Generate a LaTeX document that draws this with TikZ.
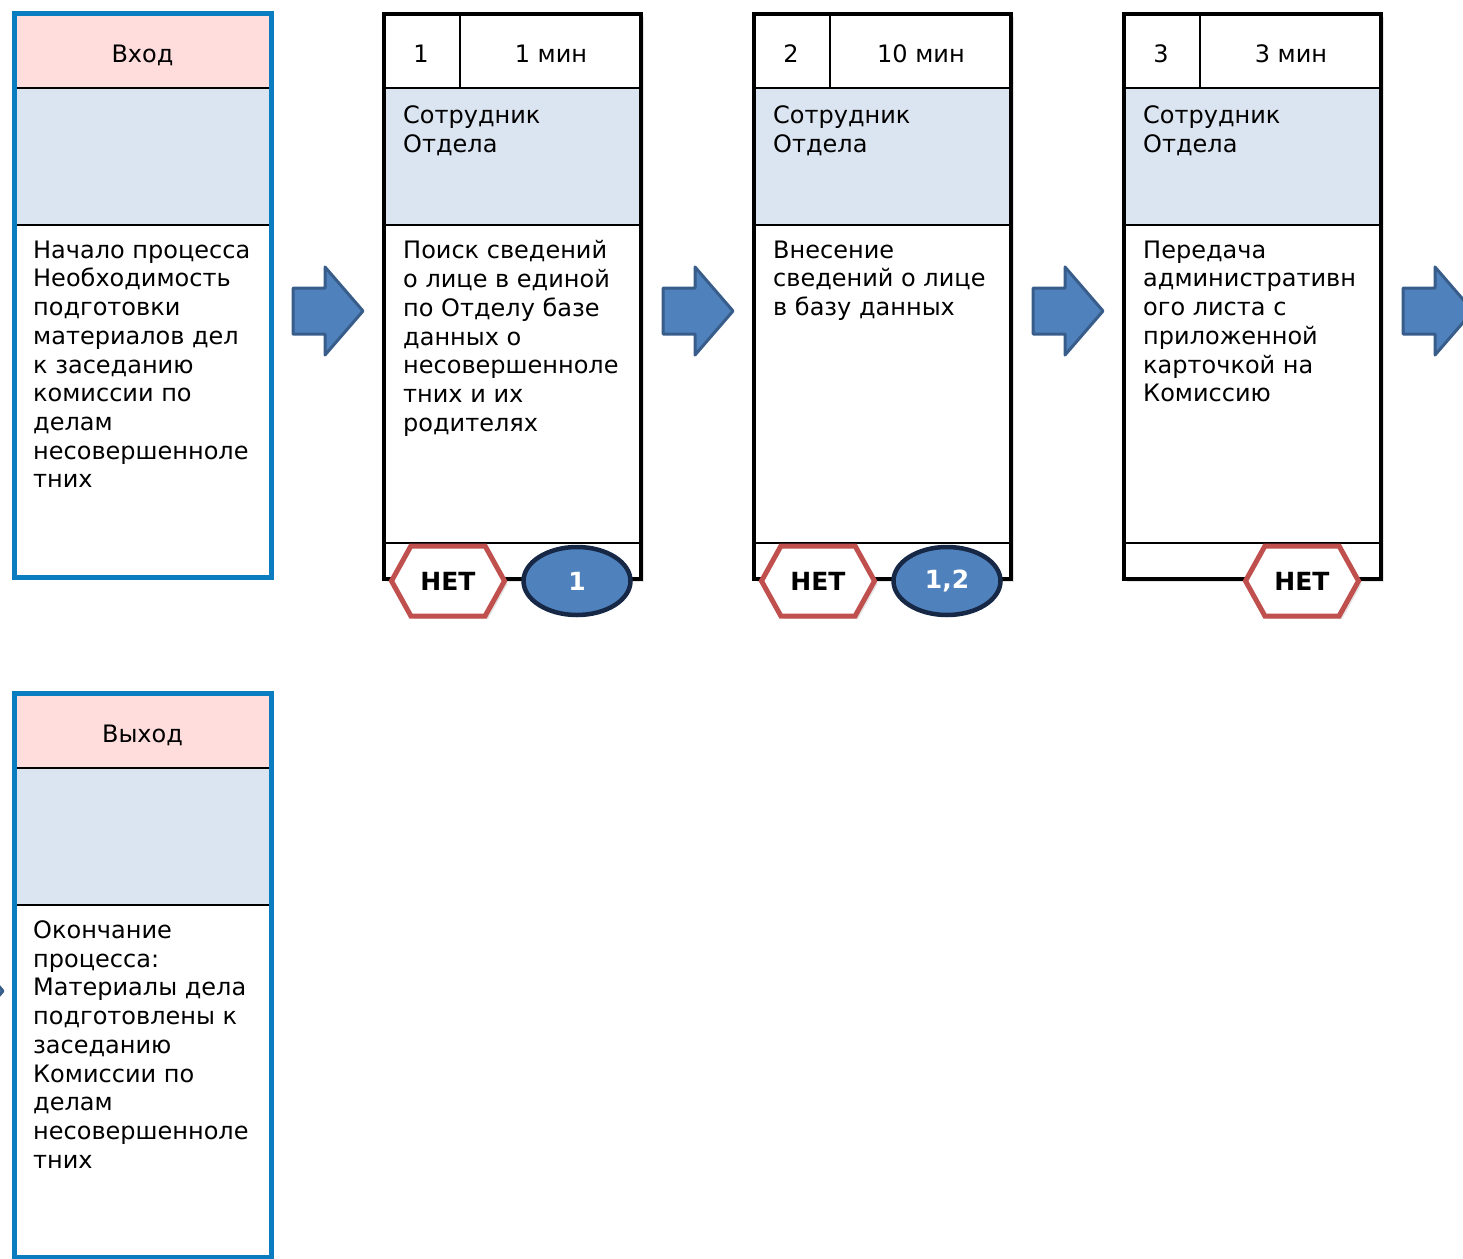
\documentclass[tikz,border=0pt]{standalone}
\usepackage{fontspec}
\setmainfont{DejaVu Sans}
\usepackage{tikz}
\usetikzlibrary{shapes.geometric,shapes.symbols,shadows}
\usepackage{xcolor}
\definecolor{frameblue}{RGB}{10,125,193}
\definecolor{headpink}{RGB}{255,221,221}
\definecolor{rolegray}{RGB}{219,229,241}
\definecolor{hexred}{RGB}{192,80,77}
\definecolor{ovalblue}{RGB}{79,129,189}
\definecolor{ovalnavy}{RGB}{22,40,70}
\definecolor{arrowedge}{RGB}{56,93,138}

\begin{document}
\begin{tikzpicture}[x=1pt,y=-1pt,
    every node/.style={font=\fontsize{24}{28.7}\selectfont,inner sep=0pt},
    txt/.style={align=left,anchor=north west},
    cell/.style={anchor=base},
    softshadow/.style={drop shadow={opacity=.22,shadow xshift=3pt,shadow yshift=-3pt}},
    endbox/.style={draw=frameblue,line width=5pt},
    procbox/.style={draw=black,line width=4.5pt},
    sep/.style={line width=1.8pt},
    noflag/.style={signal,signal to=east and west,signal pointer angle=122,
                   draw=hexred,line width=5pt,fill=white,softshadow,
                   minimum width=113pt,minimum height=70pt,
                   font=\fontsize{25}{28}\selectfont\bfseries},
    refoval/.style={ellipse,draw=ovalnavy,line width=4.5pt,fill=ovalblue,
                    minimum width=107pt,minimum height=68pt,text=white,
                    font=\fontsize{25}{28}\selectfont\bfseries},
    flowarrow/.style={fill=ovalblue,draw=arrowedge,line width=3pt,line join=round}
  ]
    \useasboundingbox (0,0) rectangle (1463,1258);
    \clip (0,0) rectangle (1463,1258);

    % Вход
    \fill[white,softshadow] (14,13) rectangle (271,577);
    \fill[headpink] (14,13) rectangle (271,88);
    \fill[rolegray] (14,88) rectangle (271,225);
    \draw[sep] (14,88) -- (271,88) (14,225) -- (271,225);
    \draw[endbox] (14,13) rectangle (271,577);
    \node[cell] (inhead) at (142.5,62) {Вход};
    \node[txt] (intext) at (33,240.5) {Начало процесса\\Необходимость\\подготовки\\материалов дел\\к заседанию\\комиссии по\\делам\\несовершенноле\\тних};

    % Выход
    \fill[white,softshadow] (14,693) rectangle (271,1257);
    \fill[headpink] (14,693) rectangle (271,768);
    \fill[rolegray] (14,768) rectangle (271,905);
    \draw[sep] (14,768) -- (271,768) (14,905) -- (271,905);
    \draw[endbox] (14,693) rectangle (271,1257);
    \node[cell] (outhead) at (142.5,742) {Выход};
    \node[txt] (outtext) at (33,920.5) {Окончание\\процесса:\\Материалы дела\\подготовлены к\\заседанию\\Комиссии по\\делам\\несовершенноле\\тних};

    % шаг 1
    \fill[white,softshadow] (384,14) rectangle (641,579);
    \fill[rolegray] (384,88) rectangle (641,225);
    \draw[sep] (460,14) -- (460,88);
    \draw[sep] (384,88) -- (641,88) (384,225) -- (641,225) (384,543) -- (641,543);
    \draw[procbox] (384,14) rectangle (641,579);
    \node[cell] (num1) at (421,62) {1};
    \node[cell] (time1) at (551,62) {1 мин};
    \node[txt] (role1) at (403,105.5) {Сотрудник\\Отдела};
    \node[txt] (task1) at (403,240.5) {Поиск сведений\\о лице в единой\\по Отделу базе\\данных о\\несовершенноле\\тних и их\\родителях};
    \node[noflag] (no1) at (448,581) {НЕТ};
    \node[refoval] (ref1) at (577,581) {1};

    % шаг 2
    \fill[white,softshadow] (754,14) rectangle (1011,579);
    \fill[rolegray] (754,88) rectangle (1011,225);
    \draw[sep] (830,14) -- (830,88);
    \draw[sep] (754,88) -- (1011,88) (754,225) -- (1011,225) (754,543) -- (1011,543);
    \draw[procbox] (754,14) rectangle (1011,579);
    \node[cell] (num2) at (791,62) {2};
    \node[cell] (time2) at (921,62) {10 мин};
    \node[txt] (role2) at (773,105.5) {Сотрудник\\Отдела};
    \node[txt] (task2) at (773,240.5) {Внесение\\сведений о лице\\в базу данных};
    \node[noflag] (no2) at (818,581) {НЕТ};
    \node[refoval] (ref2) at (947,581) {1,2};

    % шаг 3
    \fill[white,softshadow] (1124,14) rectangle (1381,579);
    \fill[rolegray] (1124,88) rectangle (1381,225);
    \draw[sep] (1200,14) -- (1200,88);
    \draw[sep] (1124,88) -- (1381,88) (1124,225) -- (1381,225) (1124,543) -- (1381,543);
    \draw[procbox] (1124,14) rectangle (1381,579);
    \node[cell] (num3) at (1161,62) {3};
    \node[cell] (time3) at (1291,62) {3 мин};
    \node[txt] (role3) at (1143,105.5) {Сотрудник\\Отдела};
    \node[txt] (task3) at (1143,240.5) {Передача\\административн\\ого листа с\\приложенной\\карточкой на\\Комиссию};
    \node[noflag] (no3) at (1302,581) {НЕТ};

    % стрелки
    \foreach \ax/\ay in {293/311,663/311,1033/311,1403/311,-67/991}
      \draw[flowarrow] (\ax,\ay-23) -- ++(32,0) -- ++(0,-21) -- ++(38,44)
        -- ++(-38,44) -- ++(0,-21) -- ++(-32,0) -- cycle;
  \end{tikzpicture}
\end{document}
